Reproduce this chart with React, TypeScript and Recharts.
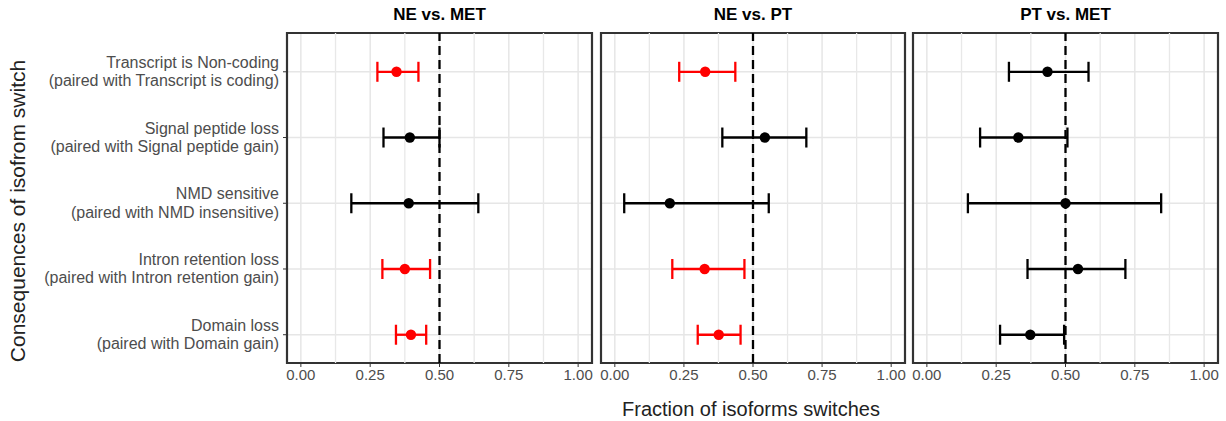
import React from "react";
import {
  CartesianGrid,
  ErrorBar,
  ReferenceArea,
  ReferenceLine,
  Scatter,
  ScatterChart,
  XAxis,
  YAxis,
} from "recharts";

// categories, top to bottom
const categories = [
  "Transcript is Non-coding\n(paired with Transcript is coding)",
  "Signal peptide loss\n(paired with Signal peptide gain)",
  "NMD sensitive\n(paired with NMD insensitive)",
  "Intron retention loss\n(paired with Intron retention gain)",
  "Domain loss\n(paired with Domain gain)",
];

const panelTitles = ["NE vs. MET", "NE vs. PT", "PT vs. MET"];

const neMetFraction = [0.345, 0.393, 0.389, 0.375, 0.397];
const neMetLower = [0.276, 0.298, 0.182, 0.294, 0.343];
const neMetUpper = [0.424, 0.5, 0.64, 0.466, 0.452];
const neMetSignificant = [true, false, false, true, true];

const nePtFraction = [0.327, 0.543, 0.199, 0.325, 0.376];
const nePtLower = [0.233, 0.389, 0.034, 0.208, 0.3];
const nePtUpper = [0.436, 0.693, 0.557, 0.469, 0.455];
const nePtSignificant = [true, false, false, true, true];

const ptMetFraction = [0.435, 0.33, 0.5, 0.545, 0.373];
const ptMetLower = [0.296, 0.192, 0.148, 0.363, 0.264];
const ptMetUpper = [0.583, 0.507, 0.845, 0.716, 0.495];
const ptMetSignificant = [false, false, false, false, false];

const xTicks = [0, 0.25, 0.5, 0.75, 1];
const xMinorTicks = [0.125, 0.375, 0.625, 0.875];
const yTicks = [0, 1, 2, 3, 4];

const X_DOMAIN = [-0.05, 1.05];
const Y_DOMAIN = [-0.43, 4.59];
const FONT = "'Liberation Sans', Arial, Helvetica, sans-serif";

type Row = { y: number; x: number; err: number[] };

function buildRows(frac: number[], lo: number[], hi: number[], sig: boolean[], want: boolean): Row[] {
  const rows: Row[] = [];
  frac.forEach((v, i) => {
    if (sig[i] !== want) return;
    rows.push({ y: categories.length - 1 - i, x: v, err: [v - lo[i], hi[i] - v] });
  });
  return rows;
}

const panels = [
  { title: panelTitles[0], frac: neMetFraction, lo: neMetLower, hi: neMetUpper, sig: neMetSignificant },
  { title: panelTitles[1], frac: nePtFraction, lo: nePtLower, hi: nePtUpper, sig: nePtSignificant },
  { title: panelTitles[2], frac: ptMetFraction, lo: ptMetLower, hi: ptMetUpper, sig: ptMetSignificant },
];

// chart placement
const layout = [
  { left: 0, width: 600, ml: 0, mr: 8, yw: 287 },
  { left: 597, width: 312, ml: 4, mr: 4, yw: 0 },
  { left: 909, width: 313, ml: 4, mr: 4, yw: 0 },
];

const CategoryTick = (props: any) => {
  const { x, y, payload } = props;
  const lines = categories[categories.length - 1 - payload.value].split("\n");
  return (
    <text x={x} y={y} textAnchor="end" fill="#4d4d4d" fontSize={16} fontFamily={FONT}>
      {lines.map((l, i) => (
        <tspan key={i} x={x} dy={i === 0 ? -4 : 18.5}>
          {l}
        </tspan>
      ))}
    </text>
  );
};

function Panel({ idx }: { idx: number }) {
  const p = panels[idx];
  const l = layout[idx];
  const sigRows = buildRows(p.frac, p.lo, p.hi, p.sig, true);
  const nsRows = buildRows(p.frac, p.lo, p.hi, p.sig, false);
  return (
    <div style={{ position: "absolute", left: l.left, top: 0 }}>
      <ScatterChart
        width={l.width}
        height={400}
        margin={{ top: 33, right: l.mr, bottom: 0, left: l.ml }}
      >
        <CartesianGrid stroke="#e6e6e6" strokeWidth={1.5} />
        {xMinorTicks.map((v) => (
          <ReferenceLine key={v} x={v} stroke="#e8e8e8" strokeWidth={1.3} />
        ))}
        <XAxis
          type="number"
          dataKey="x"
          domain={X_DOMAIN}
          ticks={xTicks}
          interval={0}
          allowDataOverflow
          height={37}
          axisLine={false}
          tickSize={4}
          tickMargin={2}
          tickLine={{ stroke: "#333333", strokeWidth: 1 }}
          tick={{ fill: "#4d4d4d", fontSize: 15, fontFamily: FONT }}
          tickFormatter={(v: number) => v.toFixed(2)}
        />
        <YAxis
          type="number"
          dataKey="y"
          domain={Y_DOMAIN}
          ticks={yTicks}
          interval={0}
          allowDataOverflow
          hide={idx !== 0}
          width={l.yw || 60}
          axisLine={false}
          tickSize={4}
          tickMargin={4}
          tickLine={{ stroke: "#333333", strokeWidth: 1 }}
          tick={<CategoryTick />}
        />
        <ReferenceLine x={0.5} stroke="#000000" strokeWidth={2.3} strokeDasharray="9 5" />
        <Scatter
          data={nsRows}
          fill="#000000"
          isAnimationActive={false}
          shape={(s: any) => <circle cx={s.cx} cy={s.cy} r={5.2} fill="#000000" />}
        >
          <ErrorBar dataKey="err" direction="x" width={10} stroke="#000000" strokeWidth={2.3} isAnimationActive={false} />
        </Scatter>
        <Scatter
          data={sigRows}
          fill="#ff0000"
          isAnimationActive={false}
          shape={(s: any) => <circle cx={s.cx} cy={s.cy} r={5.2} fill="#ff0000" />}
        >
          <ErrorBar dataKey="err" direction="x" width={10} stroke="#ff0000" strokeWidth={2.3} isAnimationActive={false} />
        </Scatter>
        <ReferenceArea
          x1={X_DOMAIN[0]}
          x2={X_DOMAIN[1]}
          y1={Y_DOMAIN[0]}
          y2={Y_DOMAIN[1]}
          fill="none"
          fillOpacity={0}
          stroke="#333333"
          strokeWidth={2.2}
        />
      </ScatterChart>
      <div
        style={{
          position: "absolute",
          left: l.ml + (idx === 0 ? l.yw : 0),
          width: l.width - l.ml - l.mr - (idx === 0 ? l.yw : 0),
          top: 5,
          textAlign: "center",
          fontFamily: FONT,
          fontWeight: "bold",
          fontSize: 17,
          lineHeight: "20px",
          color: "#000",
        }}
      >
        {p.title}
      </div>
    </div>
  );
}

export default function App() {
  return (
    <div
      style={{
        position: "absolute",
        left: 0,
        top: 0,
        width: 1226,
        height: 421,
        background: "#ffffff",
        fontFamily: FONT,
      }}
    >
      <Panel idx={0} />
      <Panel idx={1} />
      <Panel idx={2} />
      <div
        style={{
          position: "absolute",
          left: 548,
          top: 397,
          width: 406,
          textAlign: "center",
          fontSize: 20,
          lineHeight: "24px",
          color: "#222",
        }}
      >
        Fraction of isoforms switches
      </div>
      <div
        style={{
          position: "absolute",
          left: 18,
          top: 211,
          transform: "translate(-50%, -50%) rotate(-90deg)",
          whiteSpace: "nowrap",
          fontSize: 21,
          lineHeight: "24px",
          color: "#222",
        }}
      >
        Consequences of isofrom switch
      </div>
    </div>
  );
}
